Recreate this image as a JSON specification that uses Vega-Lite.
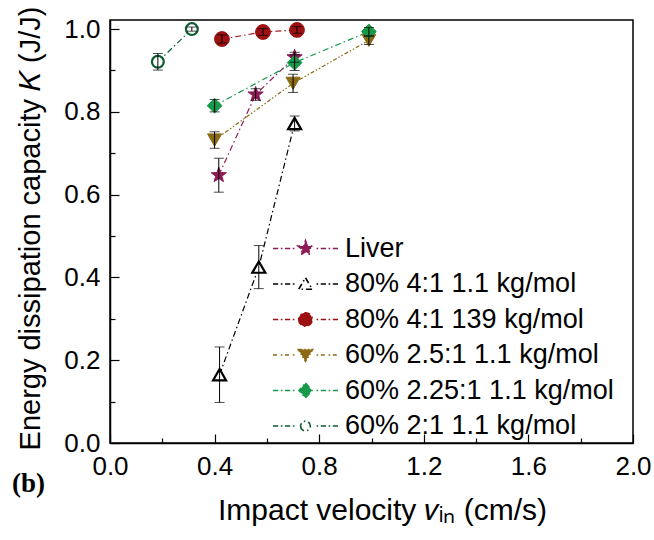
{
  "$schema": "https://vega.github.io/schema/vega-lite/v6.json",
  "width": 523,
  "height": 423,
  "autosize": "none",
  "padding": {"left": 110, "top": 20, "right": 21, "bottom": 97},
  "background": "white",
  "title": {"text": "(b)", "orient": "bottom", "anchor": "start", "frame": "group", "font": "Liberation Serif", "fontSize": 27, "fontWeight": "bold", "color": "black", "dx": -98, "dy": -58},
  "data": {"values": [
    {"s": "Liver", "x": 0.416, "y": 0.647, "lo": 0.606, "hi": 0.688},
    {"s": "Liver", "x": 0.557, "y": 0.842, "lo": 0.828, "hi": 0.856},
    {"s": "Liver", "x": 0.706, "y": 0.932, "lo": 0.920, "hi": 0.944},
    {"s": "80% 4:1 1.1 kg/mol", "x": 0.419, "y": 0.165, "lo": 0.098, "hi": 0.232},
    {"s": "80% 4:1 1.1 kg/mol", "x": 0.569, "y": 0.425, "lo": 0.373, "hi": 0.477},
    {"s": "80% 4:1 1.1 kg/mol", "x": 0.706, "y": 0.772, "lo": 0.754, "hi": 0.790},
    {"s": "80% 4:1 139 kg/mol", "x": 0.428, "y": 0.976, "lo": 0.966, "hi": 0.986},
    {"s": "80% 4:1 139 kg/mol", "x": 0.585, "y": 0.993, "lo": 0.985, "hi": 1.001},
    {"s": "80% 4:1 139 kg/mol", "x": 0.715, "y": 0.998, "lo": 0.990, "hi": 1.006},
    {"s": "60% 2.5:1 1.1 kg/mol", "x": 0.400, "y": 0.732, "lo": 0.712, "hi": 0.752},
    {"s": "60% 2.5:1 1.1 kg/mol", "x": 0.700, "y": 0.869, "lo": 0.847, "hi": 0.891},
    {"s": "60% 2.5:1 1.1 kg/mol", "x": 0.990, "y": 0.973, "lo": 0.963, "hi": 0.983},
    {"s": "60% 2.25:1 1.1 kg/mol", "x": 0.400, "y": 0.815, "lo": 0.800, "hi": 0.830},
    {"s": "60% 2.25:1 1.1 kg/mol", "x": 0.706, "y": 0.919, "lo": 0.900, "hi": 0.938},
    {"s": "60% 2.25:1 1.1 kg/mol", "x": 0.990, "y": 0.994, "lo": 0.984, "hi": 1.004},
    {"s": "60% 2:1 1.1 kg/mol", "x": 0.183, "y": 0.921, "lo": 0.901, "hi": 0.941},
    {"s": "60% 2:1 1.1 kg/mol", "x": 0.313, "y": 1.000, "lo": 0.995, "hi": 1.005}
  ]},
  "encoding": {
    "x": {"field": "x", "type": "quantitative", "scale": {"domain": [0, 2.0], "nice": false, "zero": false},
      "axis": {"title": "Impact velocity 𝑣ᵢₙ (cm/s)", "values": [0, 0.2, 0.4, 0.6, 0.8, 1.0, 1.2, 1.4, 1.6, 1.8, 2.0],
        "labelExpr": "round(datum.value*10) % 4 === 0 ? format(datum.value, '.1f') : ''",
        "tickSize": {"condition": {"test": "round(datum.value*10) % 4 === 0", "value": -9}, "value": -5},
        "labelFlush": false, "labelPadding": 19, "titleX": 272, "titleY": 67, "titleBaseline": "middle", "titleFontSize": 30}},
    "y": {"field": "y", "type": "quantitative", "scale": {"domain": [0, 1.022], "nice": false, "zero": false},
      "axis": {"title": "Energy dissipation capacity 𝐾 (J/J)", "values": [0, 0.1, 0.2, 0.3, 0.4, 0.5, 0.6, 0.7, 0.8, 0.9, 1.0],
        "labelExpr": "round(datum.value*10) % 2 === 0 ? format(datum.value, '.1f') : ''",
        "tickSize": {"condition": {"test": "round(datum.value*10) % 2 === 0", "value": -9}, "value": -5},
        "labelFlush": false, "labelPadding": 19, "titleX": -80, "titleY": 208, "titleBaseline": "middle", "titleAngle": -90, "titleFontSize": 29}}
  },
  "layer": [
    {
      "mark": {"type": "line", "strokeWidth": 1.2},
      "encoding": {
        "stroke": {"field": "s", "type": "nominal"},
        "strokeDash": {"field": "s", "type": "nominal", "legend": null,
          "scale": {"domain": ["Liver", "80% 4:1 1.1 kg/mol", "80% 4:1 139 kg/mol", "60% 2.5:1 1.1 kg/mol", "60% 2.25:1 1.1 kg/mol", "60% 2:1 1.1 kg/mol"],
            "range": [[6, 3, 1.5, 3], [6, 3, 1.5, 3], [6, 3, 1.5, 3], [4, 2, 1.5, 2, 1.5, 2], [6, 3, 1.5, 3], [6, 3, 1.5, 3]]}}
      }
    },
    {"transform": [{"filter": "datum.s === 'Liver'"}], "mark": {"type": "point", "shape": "M0,-1.1L0.26,-0.36L1.05,-0.34L0.43,0.14L0.65,0.89L0,0.45L-0.65,0.89L-0.43,0.14L-1.05,-0.34L-0.26,-0.36Z", "size": 210, "filled": true, "opacity": 1, "strokeWidth": 1}, "encoding": {"fill": {"field": "s", "type": "nominal"}, "stroke": {"field": "s", "type": "nominal"}}},
    {"transform": [{"filter": "datum.s === '80% 4:1 1.1 kg/mol'"}], "mark": {"type": "point", "shape": "triangle-up", "size": 170, "filled": true, "opacity": 1, "strokeWidth": 2.2}, "encoding": {"fill": {"field": "s", "type": "nominal"}, "stroke": {"field": "s", "type": "nominal"}}},
    {"transform": [{"filter": "datum.s === '80% 4:1 139 kg/mol'"}], "mark": {"type": "point", "shape": "circle", "size": 220, "filled": true, "opacity": 1, "strokeWidth": 1}, "encoding": {"fill": {"field": "s", "type": "nominal"}, "stroke": {"field": "s", "type": "nominal"}}},
    {"transform": [{"filter": "datum.s === '60% 2.5:1 1.1 kg/mol'"}], "mark": {"type": "point", "shape": "triangle-down", "size": 200, "filled": true, "opacity": 1, "strokeWidth": 1}, "encoding": {"fill": {"field": "s", "type": "nominal"}, "stroke": {"field": "s", "type": "nominal"}}},
    {"transform": [{"filter": "datum.s === '60% 2.25:1 1.1 kg/mol'"}], "mark": {"type": "point", "shape": "diamond", "size": 220, "filled": true, "opacity": 1, "strokeWidth": 1}, "encoding": {"fill": {"field": "s", "type": "nominal"}, "stroke": {"field": "s", "type": "nominal"}}},
    {"transform": [{"filter": "datum.s === '60% 2:1 1.1 kg/mol'"}], "mark": {"type": "point", "shape": "circle", "size": 140, "filled": true, "opacity": 1, "strokeWidth": 2.2}, "encoding": {"fill": {"field": "s", "type": "nominal"}, "stroke": {"field": "s", "type": "nominal"}}},
    {
      "mark": {"type": "errorbar", "color": "black", "thickness": 1, "ticks": {"size": 10, "color": "black", "thickness": 1}},
      "encoding": {"y": {"field": "lo", "type": "quantitative"}, "y2": {"field": "hi"}}
    },
    {
      "mark": {"type": "point", "filled": true, "opacity": 0, "size": 169, "strokeWidth": 1.5},
      "encoding": {
        "shape": {"field": "s", "type": "nominal",
          "scale": {"domain": ["Liver", "80% 4:1 1.1 kg/mol", "80% 4:1 139 kg/mol", "60% 2.5:1 1.1 kg/mol", "60% 2.25:1 1.1 kg/mol", "60% 2:1 1.1 kg/mol"],
            "range": [
              "M-5,0H-4.2M-3.8,0H-3.55M-3.15,0H-2.35M-1.95,0H-1.7M1.7,0H1.95M2.35,0H3.15M3.55,0H3.8M4.2,0H5M0,-1.2L0.28,-0.39L1.14,-0.37L0.47,0.15L0.71,0.97L0,0.49L-0.71,0.97L-0.47,0.15L-1.14,-0.37L-0.28,-0.39Z",
              "M-5,0H-4.2M-3.8,0H-3.55M-3.15,0H-2.35M-1.95,0H-1.7M1.7,0H1.95M2.35,0H3.15M3.55,0H3.8M4.2,0H5M0,-0.95L1.05,0.8L-1.05,0.8Z",
              "M-5,0H-4.2M-3.8,0H-3.55M-3.15,0H-2.35M-1.95,0H-1.7M1.7,0H1.95M2.35,0H3.15M3.55,0H3.8M4.2,0H5M-1.05,0A1.05,1.05,0,1,0,1.05,0A1.05,1.05,0,1,0,-1.05,0Z",
              "M-5,0H-4.2M-3.8,0H-3.55M-3.15,0H-2.35M-1.95,0H-1.7M1.7,0H1.95M2.35,0H3.15M3.55,0H3.8M4.2,0H5M-1.1,-0.85L1.1,-0.85L0,0.95Z",
              "M-5,0H-4.2M-3.8,0H-3.55M-3.15,0H-2.35M-1.95,0H-1.7M1.7,0H1.95M2.35,0H3.15M3.55,0H3.8M4.2,0H5M0,-1.15L1,0L0,1.15L-1,0Z",
              "M-5,0H-4.2M-3.8,0H-3.55M-3.15,0H-2.35M-1.95,0H-1.7M1.7,0H1.95M2.35,0H3.15M3.55,0H3.8M4.2,0H5M-0.75,0A0.75,0.75,0,1,0,0.75,0A0.75,0.75,0,1,0,-0.75,0Z"
            ]}},
        "fill": {"field": "s", "type": "nominal",
          "scale": {"domain": ["Liver", "80% 4:1 1.1 kg/mol", "80% 4:1 139 kg/mol", "60% 2.5:1 1.1 kg/mol", "60% 2.25:1 1.1 kg/mol", "60% 2:1 1.1 kg/mol"],
            "range": ["#8e1b55", "#ffffff", "#9c1212", "#8b6a16", "#17994a", "#ffffff"]}},
        "stroke": {"field": "s", "type": "nominal",
          "scale": {"domain": ["Liver", "80% 4:1 1.1 kg/mol", "80% 4:1 139 kg/mol", "60% 2.5:1 1.1 kg/mol", "60% 2.25:1 1.1 kg/mol", "60% 2:1 1.1 kg/mol"],
            "range": ["#8e1b55", "#000000", "#9c1212", "#8b6a16", "#17994a", "#0d5c30"]},
          "legend": {"orient": "none", "legendX": 182, "legendY": 215, "title": null, "padding": 0, "symbolSize": 169, "symbolStrokeWidth": 1.6, "symbolOpacity": 1, "labelFontSize": 27, "labelFont": "Liberation Sans", "labelColor": "black", "labelOffset": 26, "rowPadding": 7.5, "labelLimit": 400}}
      }
    }
  ],
  "config": {
    "font": "Liberation Sans",
    "view": {"stroke": "black", "strokeWidth": 1.5},
    "axis": {"grid": false, "domainColor": "black", "domainWidth": 1.5, "tickColor": "black", "tickWidth": 1.2, "labelFontSize": 26, "labelColor": "black", "titleFontWeight": "normal", "titleColor": "black", "labelFont": "Liberation Sans", "titleFont": "Liberation Sans"}
  }
}
